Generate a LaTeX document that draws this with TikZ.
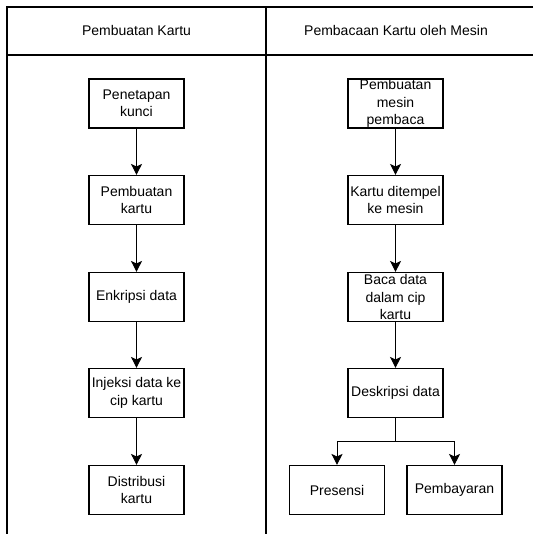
\documentclass[tikz,border=0pt]{standalone}
\usepackage{fontspec}
\setmainfont{Liberation Sans}
\usetikzlibrary{arrows.meta}
\tikzset{
  proc/.style={draw, line width=1.1pt, minimum width=95pt, minimum height=49pt, inner sep=0pt, align=center,
    font=\fontsize{14pt}{17.5pt}\selectfont},
  hdr/.style={font=\fontsize{14pt}{17.5pt}\selectfont, inner sep=0pt},
  lane/.style={line width=1.2pt},
  flow/.style={line width=1pt, -{Stealth[length=11pt,width=11pt,inset=2.5pt]}},
}
\begin{document}
\begin{tikzpicture}[x=1pt,y=-1pt]
\useasboundingbox (0,0) rectangle (533,534);
% swimlanes
\coordinate (tl) at (7,7);
\coordinate (tr) at (533,7);
\coordinate (hl) at (7,55);
\coordinate (hr) at (533,55);
\coordinate (bl) at (7,534);
\coordinate (mt) at (266,7);
\coordinate (mb) at (266,534);
\draw[lane] (tr) -- (tl) -- (bl);
\draw[lane] (hl) -- (hr);
\draw[lane] (mt) -- (mb);
\node[hdr] (h1) at (136.5,31) {Pembuatan Kartu};
\node[hdr] (h2) at (396,31) {Pembacaan Kartu oleh Mesin};
% left column
\node[proc] (a1) at (136.5,103.5) {Penetapan\\kunci};
\node[proc] (a2) at (136.5,200) {Pembuatan\\kartu};
\node[proc] (a3) at (136.5,297) {Enkripsi data};
\node[proc] (a4) at (136.5,393) {Injeksi data ke\\cip kartu};
\node[proc] (a5) at (136.5,490) {Distribusi\\kartu};
% right column
\node[proc] (b1) at (395.5,103.5) {Pembuatan\\mesin\\pembaca};
\node[proc] (b2) at (395.5,200) {Kartu ditempel\\ke mesin};
\node[proc] (b3) at (395.5,297) {Baca data\\dalam cip\\kartu};
\node[proc] (b4) at (395.5,393) {Deskripsi data};
\node[proc] (c1) at (337,490) {Presensi};
\node[proc] (c2) at (454.5,490) {Pembayaran};
% arrows
\draw[flow] (a1) -- (a2);
\draw[flow] (a2) -- (a3);
\draw[flow] (a3) -- (a4);
\draw[flow] (a4) -- (a5);
\draw[flow] (b1) -- (b2);
\draw[flow] (b2) -- (b3);
\draw[flow] (b3) -- (b4);
\coordinate (br) at (395.5,441);
\draw[line width=1pt] (b4.south) -- (br);
\draw[flow] (br) -| (c1.north);
\draw[flow] (br) -| (c2.north);
\end{tikzpicture}
\end{document}
